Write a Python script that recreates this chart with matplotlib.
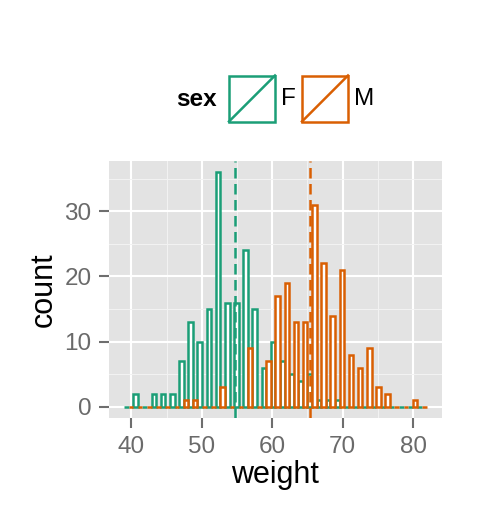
import numpy as np
import matplotlib

matplotlib.use("Agg")
import matplotlib.pyplot as plt
from matplotlib.patches import Rectangle
from matplotlib.lines import Line2D

plt.rcParams["font.family"] = ["Liberation Sans", "DejaVu Sans"]

# histogram bins (position = "dodge"): first bin edge and bin width
bin_start = 38.96
bin_width = 1.302
f_counts = [0, 2, 0, 2, 2, 2, 7, 13, 10, 15, 36, 16, 16, 24, 15, 6, 10,
            7, 5, 4, 5, 1, 1, 1, 0, 0, 0, 0, 0, 0, 0, 0, 0]
m_counts = [0, 0, 0, 0, 0, 0, 1, 1, 0, 0, 3, 0, 0, 9, 0, 7, 17,
            19, 13, 13, 31, 22, 14, 21, 8, 6, 9, 3, 2, 0, 0, 1, 0]
groups = ["F", "M"]
group_means = [54.70, 65.36]
colors = ["#1B9E77", "#D95F02"]
x_ticks = [40, 50, 60, 70, 80]
y_ticks = [0, 10, 20, 30]

W, H = 480, 518
fig = plt.figure(figsize=(W / 100, H / 100), dpi=100)
fig.patch.set_facecolor("white")

left, right, top, bottom = 109, 441.7, 160.7, 418.3
ax = fig.add_axes([left / W, (H - bottom) / H, (right - left) / W, (bottom - top) / H])
ax.set_facecolor("#E3E3E3")
for s in ax.spines.values():
    s.set_visible(False)

edges = bin_start + bin_width * np.arange(len(f_counts))
half = bin_width / 2
lw = 1.8
ax.bar(edges, f_counts, width=half, align="edge", facecolor="white",
       edgecolor=colors[0], linewidth=lw, zorder=3)
ax.bar(edges + half, m_counts, width=half, align="edge", facecolor="white",
       edgecolor=colors[1], linewidth=lw, zorder=3)

for mean, c in zip(group_means, colors):
    ax.axvline(mean, color=c, linewidth=lw, linestyle=(0, (4.2, 2.2)), zorder=4)

x_end = edges[-1] + bin_width
xr = x_end - bin_start
ax.set_xlim(bin_start - 0.05 * xr, x_end + 0.05 * xr)
ymax = max(max(f_counts), max(m_counts))
ax.set_ylim(-0.05 * ymax, ymax * 1.05)

ax.set_xticks(x_ticks)
ax.set_yticks(y_ticks)
ax.set_xticks([45, 55, 65, 75], minor=True)
ax.set_yticks([5, 15, 25, 35], minor=True)
ax.grid(which="major", color="white", linewidth=1.5, zorder=0)
ax.grid(which="minor", color="#F3F3F3", linewidth=0.7, zorder=0)
ax.set_axisbelow(True)
ax.tick_params(which="major", length=7.5, width=1.5, color="#6E6E6E",
               labelcolor="#6A6A6A", labelsize=17.5, pad=5)
ax.tick_params(which="minor", length=0)
ax.set_xlabel("weight", fontsize=22, labelpad=2)
ax.set_ylabel("count", fontsize=22, labelpad=4)

# legend on top, drawn in pixel coordinates
lax = fig.add_axes([0, 0, 1, 1])
lax.set_xlim(0, W)
lax.set_ylim(H, 0)
lax.axis("off")
lax.text(217, 99, "sex", fontsize=17.5, fontweight="bold", ha="right", va="center")
key_x = [229, 302]
for kx, c, g in zip(key_x, colors, groups):
    lax.add_patch(Rectangle((kx, 75.5), 46, 46, facecolor="white", edgecolor=c, linewidth=lw))
    lax.add_line(Line2D([kx, kx + 46], [121.5, 75.5], color=c, linewidth=lw))
    lax.text(kx + 52, 99, g, fontsize=17.5, ha="left", va="center")

fig.savefig("out.png", dpi=100)
